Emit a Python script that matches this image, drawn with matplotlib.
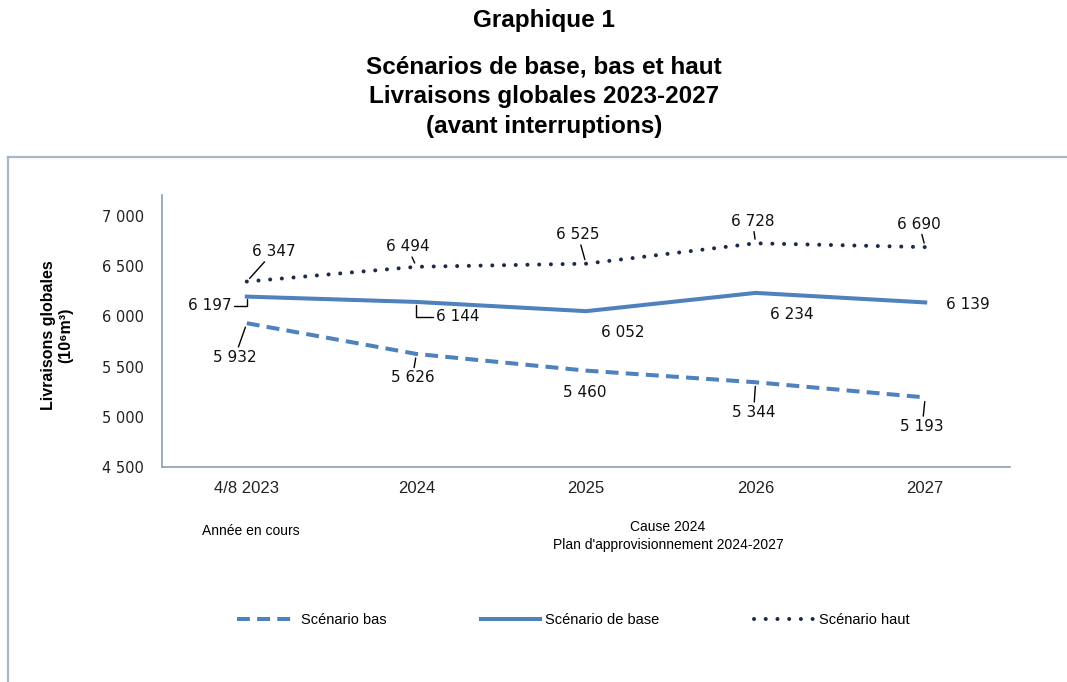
import matplotlib
matplotlib.use('Agg')
import matplotlib.pyplot as plt

#%% data

years = ['4/8 2023', '2024', '2025', '2026', '2027']
bas = [5932, 5626, 5460, 5344, 5193]
base = [6197, 6144, 6052, 6234, 6139]
haut = [6347, 6494, 6525, 6728, 6690]
yticks = [4500, 5000, 5500, 6000, 6500, 7000]

# label placement (offset in pixels from the point, leader type)
off_bas = [(-12, -34, 'line'), (-4, -24, 'line'), (-1, -22, None), (-2, -30, 'line'), (-3, -29, 'line')]
off_base = [(-37, -9, 'elbow'), (41, -15, 'elbow'), (37, -21, None), (36, -22, None), (43, -2, None)]
off_haut = [(27, 30, 'line'), (-9, 20, 'line'), (-8, 29, 'line'), (-3, 22, 'line'), (-6, 23, 'line')]

blue = '#4F81BD'
navy = '#1B2A47'
W, H = 1067, 682

#%% figure

fig = plt.figure(figsize=(W/100, H/100), dpi=100)

fig.text(0.51, 1 - 21/H, 'Graphique 1', ha='center', va='center',
         fontsize=17.5, weight='bold', family='Liberation Sans')
for k, line in enumerate(['Scénarios de base, bas et haut',
                          'Livraisons globales 2023-2027',
                          '(avant interruptions)']):
    fig.text(0.51, 1 - (67 + 30*k)/H, line, ha='center', va='center',
             fontsize=17.5, weight='bold', family='Liberation Sans')

# outer frame (only top and left visible)
fig.add_artist(plt.Line2D([8/W, 1], [1 - 157/H]*2, transform=fig.transFigure,
                          color='#A8B5C7', lw=1.6))
fig.add_artist(plt.Line2D([8/W, 8/W], [0, 1 - 157/H], transform=fig.transFigure,
                          color='#A8B5C7', lw=1.6))

ax = fig.add_axes([162/W, 1 - 467/H, (1010 - 162)/W, (467 - 195)/H])
x = list(range(len(years)))

l_bas, = ax.plot(x, bas, color=blue, lw=2.9, dashes=(3.2, 1.8),
                 label='Scénario bas')
l_base, = ax.plot(x, base, color=blue, lw=2.9, label='Scénario de base')
l_haut, = ax.plot(x, haut, color=navy, lw=2.9, dashes=(0.01, 2.9),
                  dash_capstyle='round', label='Scénario haut')

ax.set_xlim(-0.5, 4.5)
ax.set_ylim(4500, 7209)
ax.set_yticks(yticks)
ax.set_yticklabels([f'{v:,}'.replace(',', ' ') for v in yticks],
                   family='DejaVu Sans', fontsize=10.5)
ax.set_xticks(x)
ax.set_xticklabels(years, family='Liberation Sans', fontsize=12)
ax.tick_params(axis='y', length=0, pad=13, colors='#222222')
ax.tick_params(axis='x', length=0, pad=10, colors='#222222')
for s in ['top', 'right']:
    ax.spines[s].set_visible(False)
for s in ['left', 'bottom']:
    ax.spines[s].set_color('#8E9DB5')
    ax.spines[s].set_linewidth(1.2)

# data labels
for vals, offs in [(bas, off_bas), (base, off_base), (haut, off_haut)]:
    for i, (v, (dx, dy, kind)) in enumerate(zip(vals, offs)):
        props = None
        if kind == 'line':
            props = dict(arrowstyle='-', color='black', lw=1, shrinkA=0, shrinkB=3)
        elif kind == 'elbow':
            props = dict(arrowstyle='-', color='black', lw=1, shrinkA=0, shrinkB=2,
                         connectionstyle='angle,angleA=0,angleB=90,rad=0')
        ax.annotate(f'{v:,}'.replace(',', ' '), xy=(i, v), xytext=(dx, dy),
                    textcoords='offset pixels', ha='center', va='center',
                    fontsize=11, family='DejaVu Sans', color='#111111',
                    arrowprops=props)

fig.text(57/W, 1 - 335/H, 'Livraisons globales\n(10⁶m³)', rotation=90,
         ha='center', va='center', fontsize=11.5, weight='bold',
         linespacing=1.25, family=['Liberation Sans', 'DejaVu Sans'])

fig.text(251/W, 1 - 531/H, 'Année en cours', ha='center', va='center',
         fontsize=10, family='Liberation Sans')
fig.text(668/W, 1 - 536/H, "Cause 2024\nPlan d'approvisionnement 2024-2027",
         ha='center', va='center', fontsize=10, linespacing=1.35,
         family='Liberation Sans')

fig.legend(handles=[l_bas, l_base, l_haut], loc='center',
           bbox_to_anchor=(573/W, 1 - 620/H), ncol=3, frameon=False,
           handlelength=4.0, columnspacing=6.5, handletextpad=0.4,
           prop={'family': 'Liberation Sans', 'size': 10.5})

fig.savefig('out.png', dpi=100)
